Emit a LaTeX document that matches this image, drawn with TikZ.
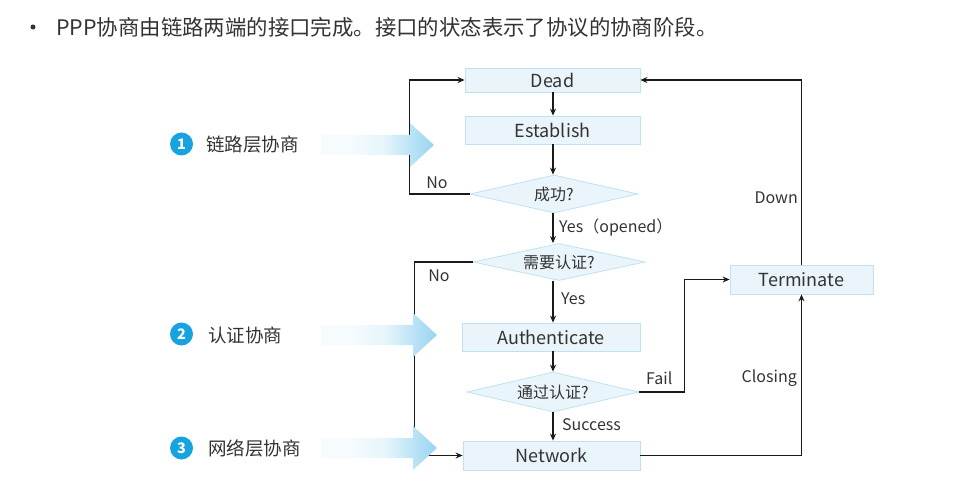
\documentclass[tikz,border=0pt]{standalone}
\usepackage{fontspec}
\setmainfont{Noto Sans CJK SC}
\usetikzlibrary{shapes.geometric,arrows.meta}
\definecolor{boxfill}{HTML}{EAF5FB}
\definecolor{boxline}{HTML}{BEE2F2}
\definecolor{txt}{HTML}{333333}
\definecolor{numblue}{HTML}{17A2E0}
\definecolor{arrblue}{HTML}{66C0EA}
\definecolor{linec}{HTML}{1A1A1A}
\pgfdeclarehorizontalshading{fadearrow}{100bp}{color(0bp)=(white!94!arrblue); color(25bp)=(white!94!arrblue); color(40bp)=(white!84!arrblue); color(60bp)=(arrblue!62); color(75bp)=(arrblue)}
\tikzset{
  stbox/.style={draw=boxline, fill=boxfill, line width=0.8pt, inner sep=0pt, text=txt, font=\fontsize{18}{18}\selectfont},
  dec/.style={diamond, draw=boxline, fill=boxfill, line width=0.8pt, inner sep=0pt, aspect=4, text=txt, font=\fontsize{16}{16}\selectfont},
  conn/.style={draw=linec, line width=1.3pt, -{Stealth[length=7pt,width=6pt]}},
  lbl/.style={text=txt, font=\fontsize{16}{16}\selectfont, inner sep=0pt},
  numc/.style={circle, fill=numblue, minimum size=23pt, inner sep=0pt, text=white, font=\bfseries\fontsize{14.5}{14.5}\selectfont},
  phase/.style={text=txt, font=\fontsize{18.5}{18.5}\selectfont, anchor=west, inner sep=0pt},
  bigarrow/.style={shading=fadearrow}
}
\begin{document}
\begin{tikzpicture}[x=1pt,y=-1pt]
\useasboundingbox (0,0) rectangle (955,486);
% title
\node[circle, fill=txt, minimum size=5pt, inner sep=0pt] (bul) at (33,27) {};
\node[anchor=west, inner sep=0pt, text=txt, font=\fontsize{21.4}{21.4}\selectfont] (title) at (56,27) {PPP协商由链路两端的接口完成。接口的状态表示了协议的协商阶段。};
% states
\node[stbox, minimum width=175pt, minimum height=24pt] (dead) at (552.5,80) {Dead};
\node[stbox, minimum width=175pt, minimum height=28pt] (est) at (552.5,130) {Establish};
\node[dec, minimum width=168pt, minimum height=38pt] (d1) at (554,194) {成功?};
\node[dec, minimum width=172pt, minimum height=37pt] (d2) at (559,262) {需要认证?};
\node[stbox, minimum width=178pt, minimum height=28pt] (auth) at (551,337) {Authenticate};
\node[dec, minimum width=172pt, minimum height=40pt] (d3) at (553,392) {通过认证?};
\node[stbox, minimum width=177pt, minimum height=29pt] (net) at (551.5,455.5) {Network};
\node[stbox, minimum width=143pt, minimum height=29pt] (term) at (801.5,279.5) {Terminate};
% connectors
\draw[conn] (dead.south -| 553,0) -- (est.north -| 553,0);
\draw[conn] (est.south -| 553,0) -- (d1.north -| 553,0);
\draw[conn] (d1.south -| 553,0) -- (d2.north -| 553,0);
\draw[conn] (d2.south -| 553,0) -- (auth.north -| 553,0);
\draw[conn] (auth.south -| 553,0) -- (d3.north -| 553,0);
\draw[conn] (d3.south -| 553,0) -- (net.north -| 553,0);
\draw[conn] (d1.west) -- ++(-60,0) |- (dead.west);
\draw[conn] (d2.west) -- ++(-58,0) |- (net.west);
\draw[conn] (d3.east) -- ++(45,0) |- (term.west);
\draw[conn] (net.east) -| (term.south);
\draw[conn] (term.north) |- (dead.east);
% labels
\node[lbl] (lno1) at (437,183) {No};
\node[lbl, anchor=west] (lyes1) at (559,227) {Yes（opened）};
\node[lbl] (lno2) at (439,276) {No};
\node[lbl, anchor=west] (lyes2) at (561,299) {Yes};
\node[lbl, anchor=west] (lsucc) at (562,425) {Success};
\node[lbl, anchor=west] (lfail) at (646,378) {Fail};
\node[lbl, anchor=east] (lclose) at (797,378) {Closing};
\node[lbl, anchor=east] (ldown) at (798,198) {Down};
% phases
\node[numc] (n1) at (181.5,144) {1};
\node[phase] (p1) at (206,145) {链路层协商};
\node[numc] (n2) at (181.5,334) {2};
\node[phase] (p2) at (208,335) {认证协商};
\node[numc] (n3) at (181.5,448) {3};
\node[phase] (p3) at (208,448) {网络层协商};
\foreach \c/\tip in {145/434, 335/437, 448/437} {
  \shade[bigarrow] (321,\c-10) -- (\tip-24,\c-10) -- (\tip-24,\c-22) -- (\tip,\c) -- (\tip-24,\c+22) -- (\tip-24,\c+10) -- (321,\c+10) -- cycle;
}
\end{tikzpicture}
\end{document}
